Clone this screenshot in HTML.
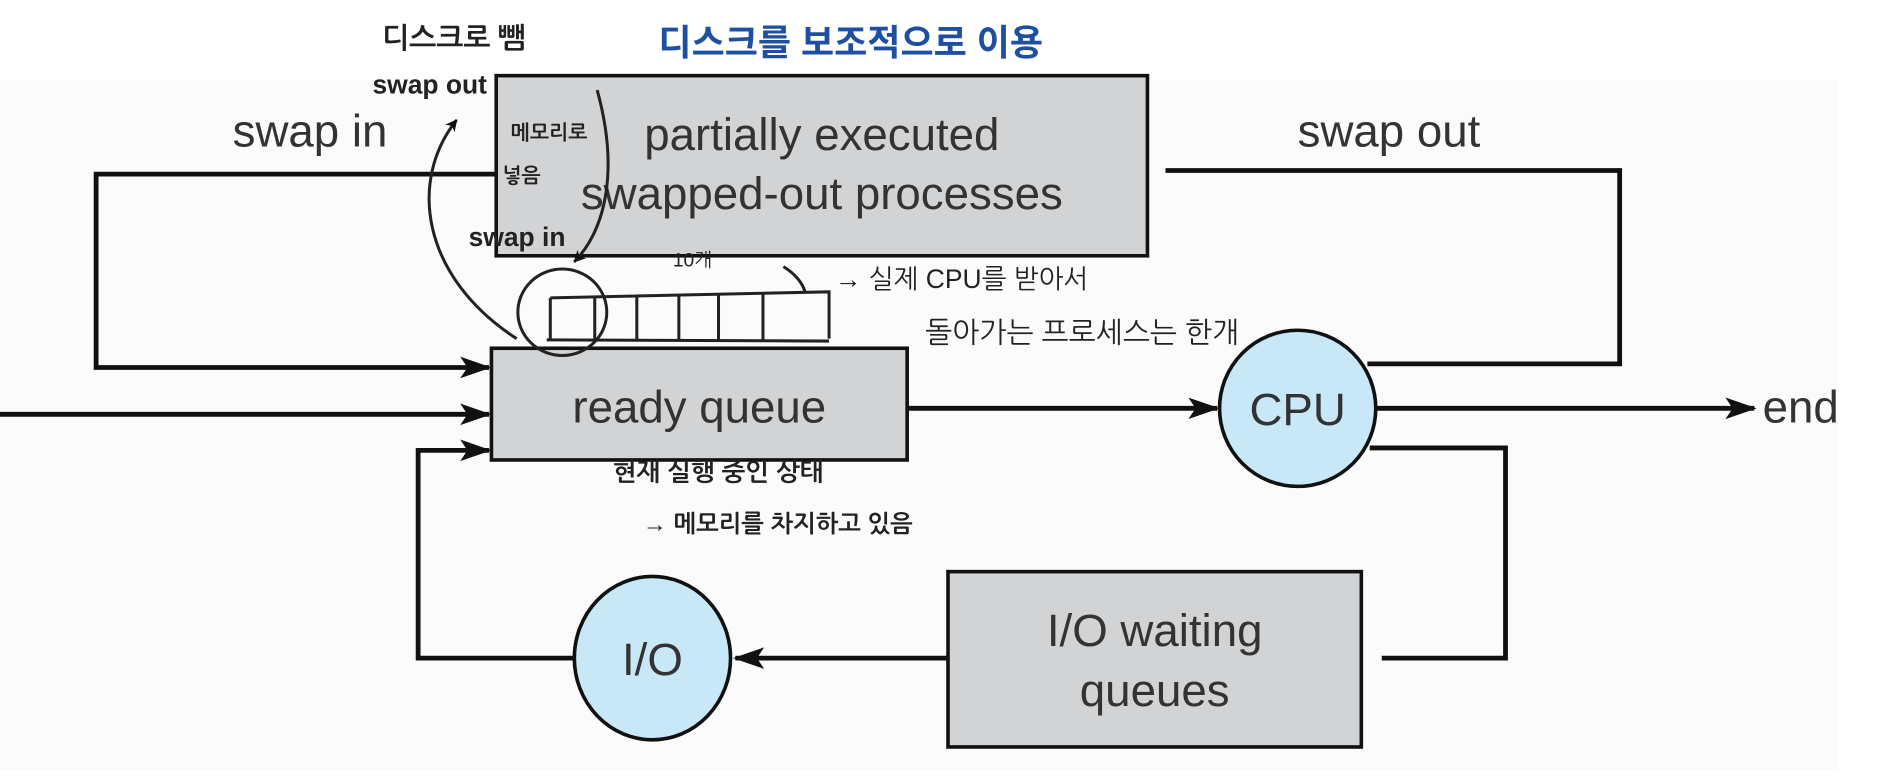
<!DOCTYPE html>
<html><head><meta charset="utf-8"><style>
html,body{margin:0;padding:0;background:#fff;width:1884px;height:783px;overflow:hidden}
svg{display:block}
text{font-family:"Liberation Sans","Noto Sans CJK KR",sans-serif}
.h{font-family:"Liberation Sans","NanumGothic","Noto Sans CJK KR",sans-serif;fill:#222}
</style></head><body>
<svg width="1884" height="783" viewBox="0 0 1568 652" preserveAspectRatio="none" xmlns="http://www.w3.org/2000/svg">
<defs><marker id="a" markerWidth="10" markerHeight="10" refX="9" refY="5" orient="auto" markerUnits="userSpaceOnUse"><path d="M0,0 L10,5 L0,10 L3,5z" fill="#111"/></marker>
<marker id="a2" markerWidth="26" markerHeight="20" refX="24" refY="10" orient="auto" markerUnits="userSpaceOnUse"><path d="M0,1 L26,10 L0,19 L6,10z" fill="#111"/></marker></defs>
<rect x="0" y="66" width="1530" height="575" fill="#fbfbfb"/>
<g stroke="#111" stroke-width="4" fill="none">
<polyline points="413,145 80,145 80,306 407,306" marker-end="url(#a2)"/>
<line x1="0" y1="345" x2="407" y2="345" marker-end="url(#a2)"/>
<polyline points="478,548 348,548 348,375 407,375" marker-end="url(#a2)"/>
<line x1="755" y1="340" x2="1013" y2="340" marker-end="url(#a2)"/>
<line x1="1145" y1="340" x2="1460" y2="340" marker-end="url(#a2)"/>
<polyline points="970,142 1348,142 1348,303 1138,303"/>
<polyline points="1140,373 1253,373 1253,548 1150,548"/>
<line x1="789" y1="548" x2="612" y2="548" marker-end="url(#a2)"/>
</g>
<rect x="413" y="63" width="542" height="150" fill="#d2d3d5" stroke="#111" stroke-width="3"/>
<rect x="409" y="290" width="346" height="93" fill="#d2d3d5" stroke="#111" stroke-width="3"/>
<rect x="789" y="476" width="344" height="146" fill="#d2d3d5" stroke="#111" stroke-width="3"/>
<ellipse cx="1080" cy="340" rx="65" ry="65" fill="#c8e8f8" stroke="#111" stroke-width="3"/>
<ellipse cx="543" cy="548" rx="65" ry="68" fill="#c8e8f8" stroke="#111" stroke-width="3"/>
<g fill="#333" font-size="38">
<text x="684" y="125" text-anchor="middle">partially executed</text>
<text x="684" y="174" text-anchor="middle">swapped-out processes</text>
<text x="258" y="122" text-anchor="middle">swap in</text>
<text x="1156" y="122" text-anchor="middle">swap out</text>
<text x="582" y="352" text-anchor="middle">ready queue</text>
<text x="1080" y="354" text-anchor="middle">CPU</text>
<text x="1467" y="352">end</text>
<text x="961" y="538" text-anchor="middle">I/O waiting</text>
<text x="961" y="588" text-anchor="middle">queues</text>
<text x="543" y="562" text-anchor="middle">I/O</text>
</g>
<text x="548" y="46" font-size="30" font-weight="bold" fill="#1f4fa0" font-family="Liberation Sans,NanumGothic,Noto Sans CJK KR,sans-serif">디스크를 보조적으로 이용</text>
<text class="h" x="318" y="40" font-size="24" font-weight="bold">디스크로 뺌</text>
<text class="h" x="310" y="78" font-size="22" font-weight="bold">swap out</text>
<text class="h" x="425" y="116" font-size="17" font-weight="bold">메모리로</text>
<text class="h" x="418" y="152" font-size="17" font-weight="bold">넣음</text>
<text class="h" x="390" y="205" font-size="22" font-weight="bold">swap in</text>
<text class="h" x="560" y="222" font-size="16">10개</text>
<text class="h" x="695" y="240" font-size="22">→ 실제 CPU를 받아서</text>
<text class="h" x="770" y="285" font-size="24">돌아가는 프로세스는 한개</text>
<text class="h" x="510" y="400" font-size="21" font-weight="bold">현재 실행 중인 상태</text>
<text class="h" x="535" y="443" font-size="20" font-weight="bold">→ 메모리를 차지하고 있음</text>
<g stroke="#222" stroke-width="2.5" fill="none">
<path d="M430,282 C350,230 340,150 380,100" marker-end="url(#a)"/>
<path d="M497,75 C515,140 505,190 478,218" marker-end="url(#a)"/>
<ellipse cx="468" cy="260" rx="37" ry="36"/>
<path d="M458,248 L690,243 L690,282 M455,283 L690,284"/>
<path d="M458,248 V283 M495,247 V284 M530,247 V284 M565,246 V284 M598,245 V284 M635,244 V284"/>
<path d="M652,222 C662,228 668,236 670,243"/>
</g>
</svg>
</body></html>
